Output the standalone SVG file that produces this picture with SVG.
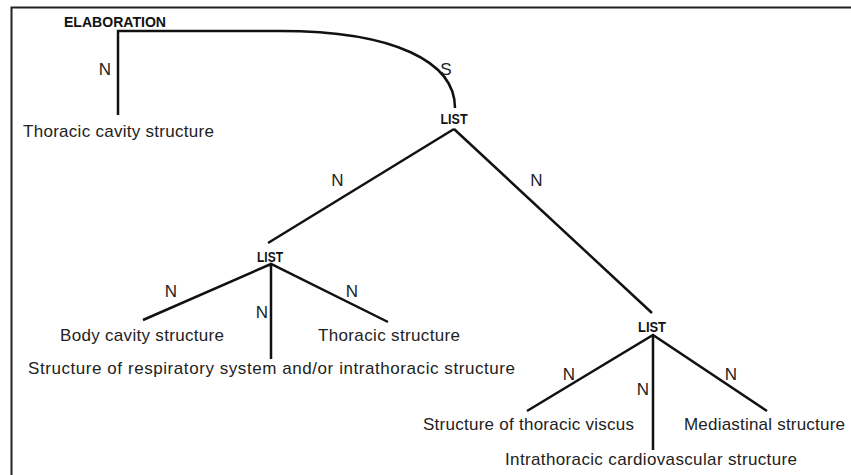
<svg xmlns="http://www.w3.org/2000/svg" width="851" height="475" viewBox="0 0 851 475">
<style>
.lbl{font-family:"Liberation Sans",Arial,sans-serif;font-size:17px;fill:#222;text-anchor:middle}
.rel{font-family:"Liberation Sans",Arial,sans-serif;font-size:14px;font-weight:bold;fill:#111;text-anchor:middle}
.n{font-family:"Liberation Sans",Arial,sans-serif;font-size:17px;fill:#222;text-anchor:middle}
.edge{fill:none;stroke:#111;stroke-width:2.5}
</style>
<rect x="11.5" y="7.5" width="900" height="500" fill="#fff" stroke="#222" stroke-width="2"/>
<g id="connectors">
<path class="edge" d="M118,115 V31 H280 C395,31 455,62 455,108"/>
<path class="edge" d="M454,129 L268,243"/>
<path class="edge" d="M454,129 L652,313"/>
<path class="edge" d="M143,320 L271,264 L388,322 M271,264 L271,359"/>
<path class="edge" d="M527,411 L653,335 L767,411 M653,335 L653,450"/>
<text class="n" x="105" y="75">N</text>
<text class="n" x="446" y="75">S</text>
<text class="n" x="337.5" y="186">N</text>
<text class="n" x="536.5" y="186">N</text>
<text class="n" x="171" y="297">N</text>
<text class="n" x="262" y="318">N</text>
<text class="n" x="352" y="297">N</text>
<text class="n" x="569" y="380">N</text>
<text class="n" x="643" y="395">N</text>
<text class="n" x="731" y="380">N</text>
</g>
<g id="elaboration"><text class="rel" x="115" y="27" textLength="102" lengthAdjust="spacingAndGlyphs">ELABORATION</text></g>
<g id="thoracic-cavity"><text class="lbl" x="118.5" y="137" textLength="191">Thoracic cavity structure</text></g>
<g id="list1"><text class="rel" x="454" y="124" textLength="27" lengthAdjust="spacingAndGlyphs">LIST</text></g>
<g id="list2"><text class="rel" x="270" y="262" textLength="26" lengthAdjust="spacingAndGlyphs">LIST</text></g>
<g id="list3"><text class="rel" x="652" y="332" textLength="28" lengthAdjust="spacingAndGlyphs">LIST</text></g>
<g id="body-cavity"><text class="lbl" x="142" y="341" textLength="164">Body cavity structure</text></g>
<g id="thoracic"><text class="lbl" x="389" y="341" textLength="142">Thoracic structure</text></g>
<g id="respiratory"><text class="lbl" x="271.5" y="374" textLength="487">Structure of respiratory system and/or intrathoracic structure</text></g>
<g id="thoracic-viscus"><text class="lbl" x="528.5" y="430" textLength="211">Structure of thoracic viscus</text></g>
<g id="mediastinal"><text class="lbl" x="764.5" y="430" textLength="161">Mediastinal structure</text></g>
<g id="cardiovascular"><text class="lbl" x="651" y="465" textLength="292">Intrathoracic cardiovascular structure</text></g>
</svg>
